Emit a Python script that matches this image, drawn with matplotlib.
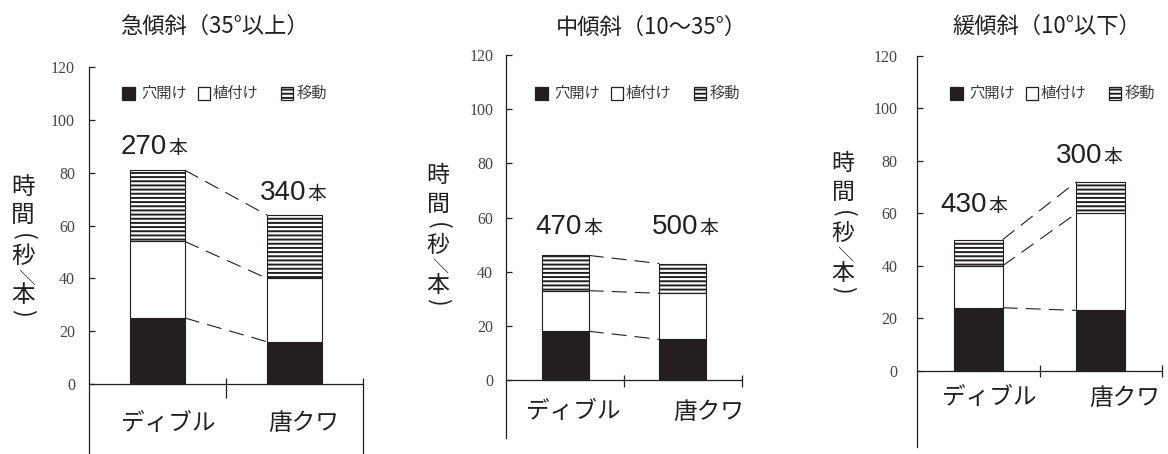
import numpy as np
import matplotlib
matplotlib.use("Agg")
import matplotlib.pyplot as plt
import matplotlib.transforms as mtransforms
from matplotlib.patches import Rectangle

plt.rcParams['font.family'] = ['Noto Sans CJK JP', 'DejaVu Sans']
plt.rcParams['hatch.linewidth'] = 1.4
plt.rcParams['lines.scale_dashes'] = False

# ---- data: seconds per seedling, by slope class and planting tool ----
slope_titles = ["急傾斜（35°以上）", "中傾斜（10～35°）", "緩傾斜（10°以下）"]
tools = ["ディブル", "唐クワ"]
work_items = ["穴開け", "植付け", "移動"]
hole_sec = [[25, 16], [18, 15], [24, 23]]
plant_sec = [[29, 24], [15, 17], [16, 37]]
move_sec = [[27, 24], [13, 11], [10, 12]]
trees_planted = [[270, 340], [470, 500], [430, 300]]
tree_unit = "本"
y_label = "時間(秒／本)"
y_ticks = [0, 20, 40, 60, 80, 100, 120]

INK = '#231f20'
W, H = 1168, 454

# per-panel layout in pixel units (origin top-left)
panels = [
    dict(box=(89, 363, 67.3, 454), zero=384, pad=10, title=(214, 26),
         ylab=(23, 187), ylab_size=17, cat=(168, 304, 423), legend_x=122,
         counts=[(168, 154), (307, 200.3)], mid_tick=(6, 14), end_tick=(6, None)),
    dict(box=(506.3, 741.7, 55, 438), zero=380, pad=9.4, title=(651, 27),
         ylab=(438, 176), ylab_size=16.5, cat=(573, 709, 412), legend_x=535,
         counts=[(583, 234.3), (699, 234.3)], mid_tick=(5, 7), end_tick=(5, 7)),
    dict(box=(916.7, 1162.3, 56, 447), zero=370.7, pad=14, title=(1047, 26),
         ylab=(843, 164), ylab_size=16.5, cat=(989, 1125, 398), legend_x=950,
         counts=[(988, 211.7), (1103, 162.7)], mid_tick=(6, 6), end_tick=(6, 6)),
]
ylab_offsets = [0, 28, 50, 69, 89, 109, 126]
legend_offsets = [(0, 19.5), (75.5, 91), (158.5, 174.7)]

fig = plt.figure(figsize=(W / 100, H / 100), dpi=100)
px = mtransforms.Affine2D().scale(1 / W, -1 / H).translate(0, 1) + fig.transFigure

x = np.arange(len(tools))
bw = 0.4

for k, L in enumerate(panels):
    l, r, t, b = L['box']
    zero = L['zero']
    scale = (zero - t) / 120.0
    ymin = -(b - zero) / scale
    ax = fig.add_axes([l / W, 1 - b / H, (r - l) / W, (b - t) / H])
    ax.set_xlim(-0.5, 1.5)
    ax.set_ylim(ymin, 120)
    ax.patch.set_alpha(0)

    hole = np.array(hole_sec[k], float)
    plant = np.array(plant_sec[k], float)
    move = np.array(move_sec[k], float)

    ax.bar(x, hole, bw, color=INK, edgecolor=INK, linewidth=0.8, zorder=3)
    ax.bar(x, plant, bw, bottom=hole, color='white', edgecolor=INK,
           linewidth=0.8, zorder=3)
    ax.bar(x, move, bw, bottom=hole + plant, color='white', edgecolor=INK,
           hatch='----', linewidth=0.8, zorder=3)

    # dashed connectors between matching segment tops
    for level in (hole, hole + plant, hole + plant + move):
        ax.plot([x[0] + bw / 2, x[1] - bw / 2], [level[0], level[1]],
                color=INK, lw=0.8, ls=(0, (10.8, 5.8)), zorder=2)

    # axes styling
    for s in ('top', 'right'):
        ax.spines[s].set_visible(False)
    ax.spines['left'].set_bounds(ymin, 120)
    ax.spines['bottom'].set_position(('data', 0))
    for s in ('left', 'bottom'):
        ax.spines[s].set_linewidth(0.9)
        ax.spines[s].set_color(INK)
    ax.set_yticks(y_ticks)
    ax.set_yticklabels([str(v) for v in y_ticks], family='Liberation Serif',
                       fontsize=11.5, color='#444444')
    ax.tick_params(axis='y', direction='in', length=4.5, width=0.9,
                   color=INK, pad=L['pad'])
    ax.set_xticks([])

    # category boundary ticks
    up, dn = L['mid_tick']
    ax.vlines(0.5, -dn / scale, up / scale, color=INK, lw=0.9, clip_on=False)
    up, dn = L['end_tick']
    lo = ymin if dn is None else -dn / scale
    ax.vlines(1.5, lo, up / scale, color=INK, lw=0.9, clip_on=False)

    # titles and labels
    fig.text(*L['title'], slope_titles[k], transform=px, ha='center',
             va='center', fontsize=16, color=INK)
    cx0, cx1, cy = L['cat']
    for name, cx in zip(tools, (cx0, cx1)):
        fig.text(cx, cy, name, transform=px, ha='center', va='center',
                 fontsize=17, color=INK)

    # vertical y-axis label, one character per row (brackets turned sideways)
    yx, yy = L['ylab']
    for ch, off in zip(y_label, ylab_offsets):
        rot = -90 if ch in '()／' else 0
        size = L['ylab_size'] * (0.7 if ch == '／' else 1.0)
        fig.text(yx, yy + off, ch, transform=px, ha='center', va='center',
                 rotation=rot, rotation_mode='anchor',
                 fontsize=size, color=INK)

    # tree counts above bars
    for n, (jx, by) in zip(trees_planted[k], L['counts']):
        fig.text(jx - 1.0, by, str(n), transform=px, ha='right',
                 va='baseline', family='Liberation Sans', fontsize=20,
                 color=INK)
        fig.text(jx + 0.3, by, tree_unit, transform=px, ha='left',
                 va='baseline', fontsize=13.5, color=INK)

    # legend
    lx = L['legend_x']
    styles = [dict(facecolor=INK), dict(facecolor='white'),
              dict(facecolor='white', hatch='----')]
    for name, (bo, to), st in zip(work_items, legend_offsets, styles):
        fig.add_artist(Rectangle((lx + bo, 87.3), 12.5, 12.7, transform=px,
                                 edgecolor=INK, linewidth=0.9, **st))
        fig.text(lx + to, 93.6, name, transform=px, ha='left', va='center',
                 fontsize=11, color='#3c3c3c')

fig.savefig('out.png', dpi=100)
